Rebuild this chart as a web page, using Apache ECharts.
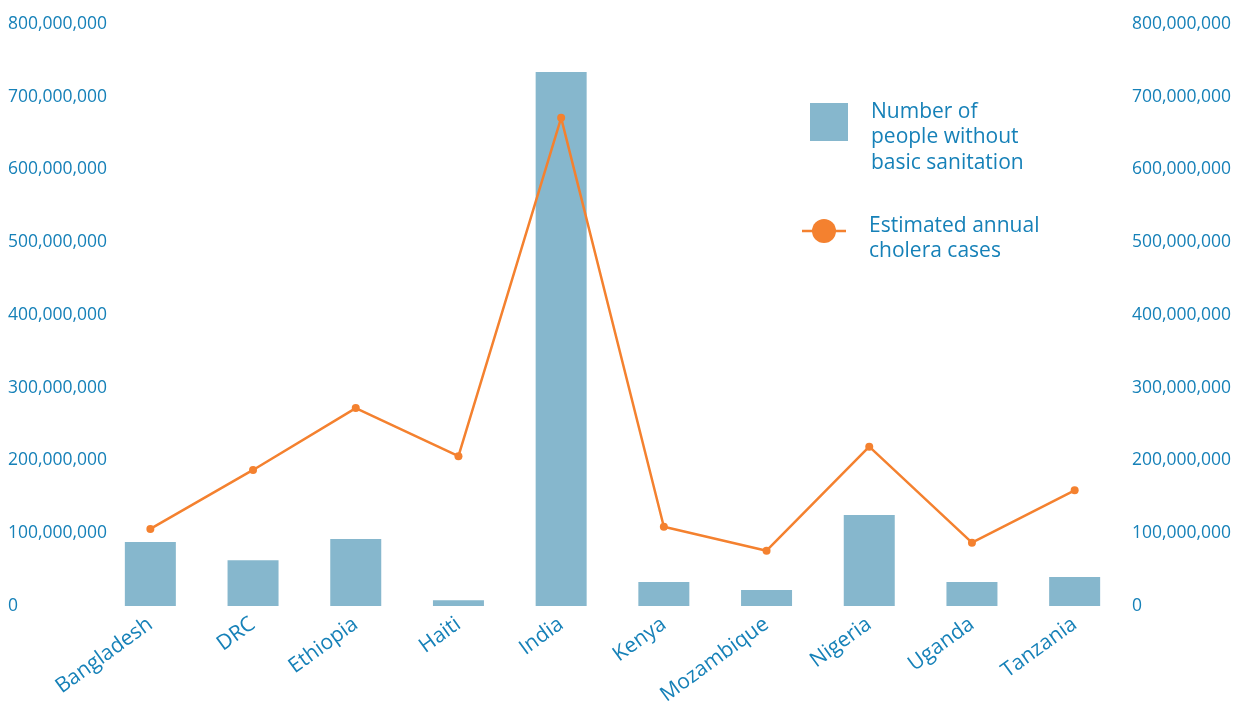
<!DOCTYPE html>
<html lang="en">
<head>
    <meta charset="utf-8">
    <title>Sanitation and cholera</title>
    <script src="https://cdn.jsdelivr.net/npm/echarts@6/dist/echarts.min.js"></script>
    <style>
        html, body { margin: 0; padding: 0; background: #fff; }
        #main { width: 1240px; height: 704px; }
    </style>
</head>
<body>
<div id="main"></div>
<script type="text/javascript">
    var countries = ['Bangladesh', 'DRC', 'Ethiopia', 'Haiti', 'India', 'Kenya', 'Mozambique', 'Nigeria', 'Uganda', 'Tanzania'];
    // people without basic sanitation (left axis)
    var noSanitation = [88e6, 63e6, 92e6, 8e6, 734e6, 33e6, 22e6, 125e6, 33e6, 40e6];
    // estimated annual cholera cases (right axis, as drawn)
    var choleraCases = [106e6, 187e6, 272e6, 206e6, 671e6, 109e6, 76e6, 219e6, 87e6, 159e6];

    var blue = '#1681b8';
    var font = '"Open Sans", "Noto Sans", sans-serif';

    var myChart = echarts.init(document.getElementById('main'));

    function fmt(v) {
        return v.toLocaleString('en-US');
    }

    var option = {
        animation: false,
        grid: { left: 99, right: 114, top: 24, bottom: 98, outerBoundsMode: 'none', containLabel: false },
        xAxis: {
            type: 'category',
            data: countries,
            axisLine: { show: false },
            axisTick: { show: false },
            axisLabel: {
                rotate: 36,
                color: blue,
                fontFamily: font,
                fontSize: 21,
                margin: 16
            }
        },
        yAxis: [{
            type: 'value',
            min: 0, max: 800e6, interval: 100e6,
            splitLine: { show: false },
            axisLabel: {
                color: blue, fontFamily: font, fontSize: 17.5,
                align: 'left', margin: 91,
                formatter: fmt
            }
        }, {
            type: 'value',
            position: 'right',
            min: 0, max: 800e6, interval: 100e6,
            splitLine: { show: false },
            axisLabel: {
                color: blue, fontFamily: font, fontSize: 17.5,
                align: 'left', margin: 6,
                padding: [0, 0, 5, 0],
                formatter: fmt
            }
        }],
        series: [{
            name: 'Number of people without basic sanitation',
            type: 'bar',
            data: noSanitation,
            barWidth: 51,
            itemStyle: { color: '#86b7cd' }
        }, {
            name: 'Estimated annual cholera cases',
            type: 'line',
            yAxisIndex: 1,
            data: choleraCases,
            symbol: 'circle',
            symbolSize: 8,
            lineStyle: { color: '#f4812f', width: 2.5 },
            itemStyle: { color: '#f4812f' }
        }],
        graphic: [
            { type: 'rect', left: 810, top: 103, shape: { width: 38, height: 38 }, style: { fill: '#86b7cd' } },
            { type: 'text', left: 871, top: 99, style: { text: 'Number of\npeople without\nbasic sanitation', fill: blue, font: '21px ' + font, lineHeight: 25.5 } },
            { type: 'line', shape: { x1: 802, y1: 231, x2: 846, y2: 231 }, style: { stroke: '#f4812f', lineWidth: 2.5 } },
            { type: 'circle', shape: { cx: 824, cy: 231, r: 12 }, style: { fill: '#f4812f' } },
            { type: 'text', left: 869, top: 213, style: { text: 'Estimated annual\ncholera cases', fill: blue, font: '21px ' + font, lineHeight: 25.5 } }
        ]
    };

    option && myChart.setOption(option);
</script>
</body>
</html>
